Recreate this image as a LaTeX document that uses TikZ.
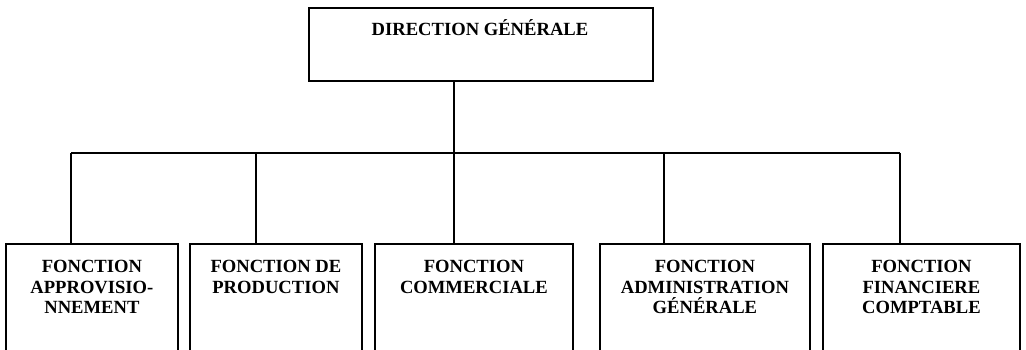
\documentclass[tikz,border=0pt]{standalone}
\usepackage{fontspec}
\setmainfont{Liberation Serif}
\begin{document}
\begin{tikzpicture}[x=1pt,y=-1pt]
\tikzset{
  frame/.style={draw, line width=1.8pt, inner sep=0pt, anchor=north west},
  boxtext/.style={font=\bfseries\fontsize{18.6}{20.5}\selectfont, align=center, inner sep=0pt, anchor=north},
  link/.style={line width=1.8pt}
}
\useasboundingbox (0,0) rectangle (1026,350);
\clip (0,0) rectangle (1026,350);

% head office
\node[frame, minimum width=344pt, minimum height=72.5pt] (dg) at (308,7.5) {};
\node[boxtext, anchor=base] (dgt) at (480,36) {DIRECTION GÉNÉRALE};

% functions (open at the bottom of the page)
\node[frame, minimum width=172pt, minimum height=130pt] (f1) at (5,243) {};
\node[frame, minimum width=172pt, minimum height=130pt] (f2) at (189,243) {};
\node[frame, minimum width=198pt, minimum height=130pt] (f3) at (374,243) {};
\node[frame, minimum width=210pt, minimum height=130pt] (f4) at (599,243) {};
\node[frame, minimum width=197pt, minimum height=130pt] (f5) at (822,243) {};

\node[boxtext, yshift=-17pt] (t1) at (f1.north) {FONCTION\\APPROVISIO-\\NNEMENT};
\node[boxtext, yshift=-17pt] (t2) at (f2.north) {FONCTION DE\\PRODUCTION};
\node[boxtext, yshift=-17pt] (t3) at (f3.north) {FONCTION\\COMMERCIALE};
\node[boxtext, yshift=-17pt] (t4) at (f4.north) {FONCTION\\ADMINISTRATION\\GÉNÉRALE};
\node[boxtext, yshift=-17pt] (t5) at (f5.north) {FONCTION\\FINANCIERE\\COMPTABLE};

% distribution bus
\coordinate (bus) at (454,153);
\coordinate (j1) at (71,153);
\coordinate (j2) at (256,153);
\coordinate (j3) at (454,153);
\coordinate (j4) at (664,153);
\coordinate (j5) at (900,153);

\draw[link] (dg.south -| bus) -- (bus);
\draw[link] (j1) -- (j5);
\draw[link] (j1) -- (j1 |- f1.north);
\draw[link] (j2) -- (j2 |- f2.north);
\draw[link] (j3) -- (j3 |- f3.north);
\draw[link] (j4) -- (j4 |- f4.north);
\draw[link] (j5) -- (j5 |- f5.north);
\end{tikzpicture}
\end{document}
